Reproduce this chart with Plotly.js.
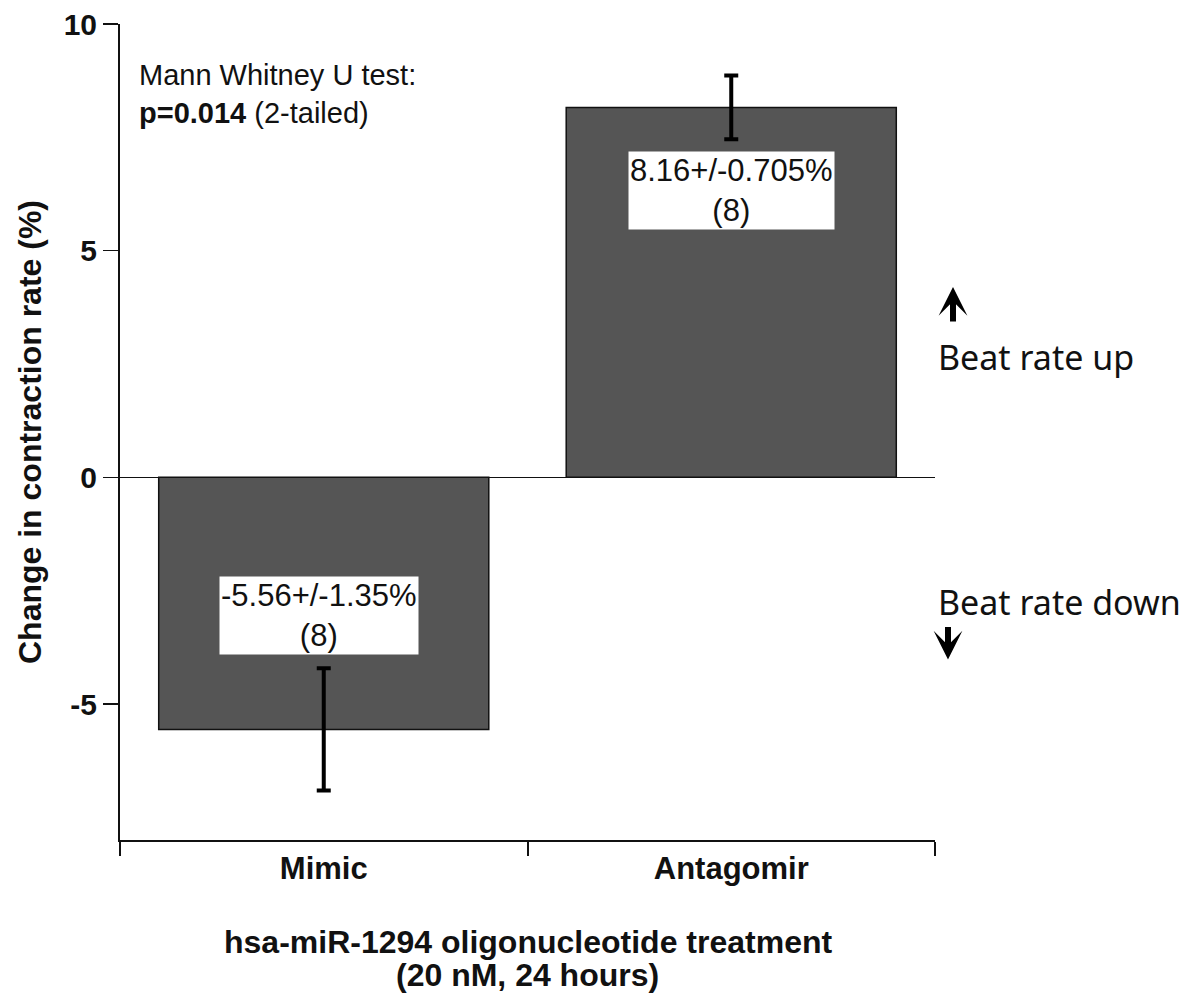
<!DOCTYPE html>
<html>
<head>
<meta charset="utf-8">
<script src="https://cdn.plot.ly/plotly-3.0.1.min.js"></script>
<style>html,body{margin:0;padding:0;background:#fff;}</style>
</head>
<body>
<div id="chart" style="width:1201px;height:996px;"></div>
<script>
// ---- data ----
const categories = ['Mimic', 'Antagomir'];
const meanChange = [-5.56, 8.16];
const semChange = [1.35, 0.705];
const sampleN = [8, 8];
const yTickVals = [-5, 0, 5, 10];
const yTickText = ['-5', '0', '5', '10'];
const xTitleLines = ['hsa-miR-1294 oligonucleotide treatment', '(20 nM, 24 hours)'];

const FONT = 'Liberation Sans, Arial, Helvetica, sans-serif';

const bars = {
  type: 'bar',
  x: categories,
  y: meanChange,
  width: 0.81,
  marker: {color: '#555555', line: {color: '#111111', width: 1.5}},
  error_y: {type: 'data', array: semChange, visible: true, color: '#000000', thickness: 4, width: 7},
  hoverinfo: 'x+y'
};

// label boxes inside bars
const labelY = [-3.04, 6.33];
const labelShift = [-5, 0];
const annotations = categories.map((c, i) => ({
  x: c, y: labelY[i], xref: 'x', yref: 'y', xshift: labelShift[i],
  text: meanChange[i] + '+/-' + semChange[i] + '%<br>(' + sampleN[i] + ')',
  showarrow: false, bgcolor: '#ffffff', borderpad: 1,
  font: {family: FONT, size: 31, color: '#111111'}
}));

annotations.push(
  {xref: 'paper', yref: 'paper', x: (137-120)/815, y: (840-94)/816, xanchor: 'left', yanchor: 'middle', align: 'left',
   text: 'Mann Whitney U test:<br><b>p=0.014</b> (2-tailed)', showarrow: false,
   font: {family: FONT, size: 29, color: '#111111'}},
  {xref: 'paper', yref: 'y', x: (936-120)/815, y: 2.65, xanchor: 'left', yanchor: 'middle',
   text: 'Beat rate up', showarrow: false, font: {family: 'Noto Sans, Open Sans, sans-serif', size: 34, color: '#111111'}},
  {xref: 'paper', yref: 'y', x: (936-120)/815, y: -2.76, xanchor: 'left', yanchor: 'middle',
   text: 'Beat rate down', showarrow: false, font: {family: 'Noto Sans, Open Sans, sans-serif', size: 34, color: '#111111'}},
  {xref: 'paper', yref: 'y', x: (953-120)/815, y: 4.2, ax: 0, ay: 36, text: '',
   showarrow: true, arrowhead: 3, arrowsize: 0.8, arrowwidth: 6, arrowcolor: '#000000'},
  {xref: 'paper', yref: 'y', x: (948-120)/815, y: -4.02, ax: 0, ay: -34, text: '',
   showarrow: true, arrowhead: 3, arrowsize: 0.8, arrowwidth: 6, arrowcolor: '#000000'},
  {xref: 'paper', yref: 'paper', x: 0.5, y: (840-942)/816, xanchor: 'center', yanchor: 'middle',
   text: '<b>' + xTitleLines[0] + '</b>', showarrow: false, font: {family: FONT, size: 32, color: '#111111'}},
  {xref: 'paper', yref: 'paper', x: 0.5, y: (840-975)/816, xanchor: 'center', yanchor: 'middle',
   text: '<b>' + xTitleLines[1] + '</b>', showarrow: false, font: {family: FONT, size: 32, color: '#111111'}}
);

const layout = {
  width: 1201, height: 996,
  margin: {l: 120, r: 266, t: 24, b: 156},
  paper_bgcolor: '#ffffff', plot_bgcolor: '#ffffff',
  showlegend: false,
  font: {family: FONT, color: '#111111'},
  xaxis: {
    type: 'category', range: [-0.5, 1.5], tickson: 'boundaries',
    showline: true, linecolor: '#111111', linewidth: 2,
    ticks: 'outside', ticklen: 14, tickwidth: 2, tickcolor: '#111111',
    showgrid: false, zeroline: false,
    tickfont: {family: FONT, size: 31, color: '#111111', weight: 'bold'}
  },
  yaxis: {
    range: [-8, 10], tickvals: yTickVals, ticktext: yTickText,
    showline: true, linecolor: '#111111', linewidth: 2,
    ticks: 'outside', ticklen: 15, tickwidth: 1.5, tickcolor: '#111111',
    showgrid: false, zeroline: true, zerolinecolor: '#111111', zerolinewidth: 1.5,
    tickfont: {family: FONT, size: 30, color: '#111111', weight: 'bold'},
    title: {text: '<b>Change in contraction rate (%)</b>',
            font: {family: FONT, size: 32, color: '#111111'}, standoff: 12}
  },
  annotations: annotations
};

Plotly.newPlot('chart', [bars], layout, {displayModeBar: false, staticPlot: true});
</script>
</body>
</html>
